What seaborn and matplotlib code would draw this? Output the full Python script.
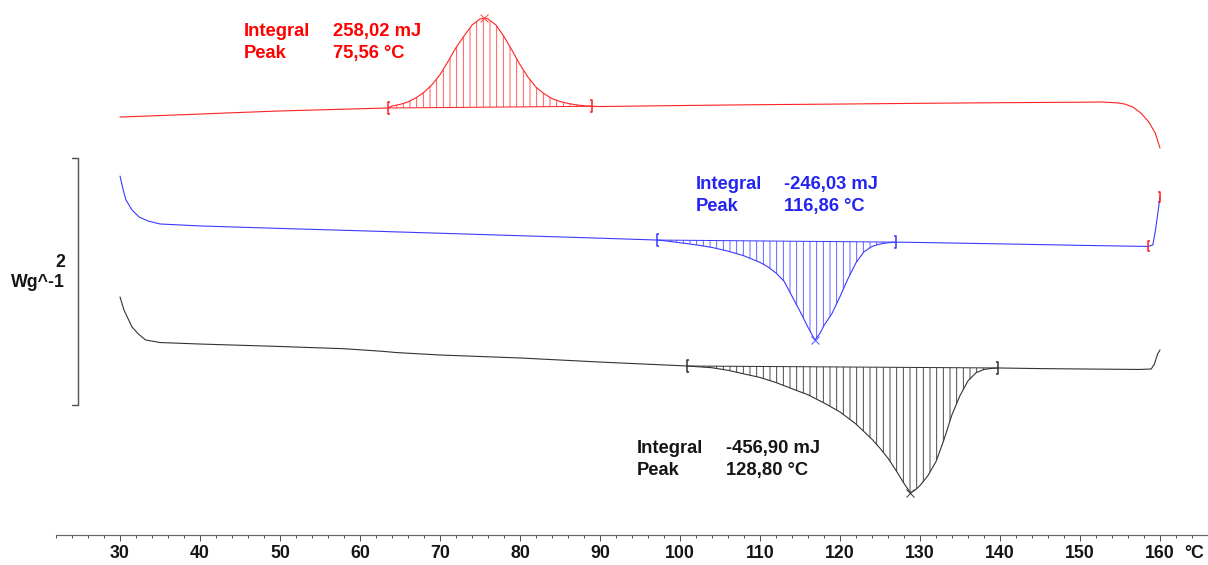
import numpy as np
import matplotlib
matplotlib.use("Agg")
import matplotlib.pyplot as plt
from matplotlib.path import Path
import seaborn as sns

# ---------------- data (temperature in °C, heat flow in W/g, curves offset) ----------------
red_T = [30, 35, 40, 45, 50, 55, 60, 63.5, 64, 65, 66, 67, 68, 69, 70, 71, 72, 73, 74, 75,
         75.56, 76, 77, 78, 79, 80, 81, 82, 83, 84, 85, 86, 87, 88, 89, 90, 100, 110, 120,
         130, 140, 150.5, 152.6, 154.6, 155.6, 156.6, 157.6, 158.6, 159.4, 160]
red_hf = [3.433, 3.445, 3.457, 3.470, 3.482, 3.491, 3.500, 3.506, 3.522, 3.535, 3.555, 3.589,
          3.633, 3.695, 3.776, 3.882, 3.995, 4.089, 4.178, 4.227, 4.235, 4.227, 4.178, 4.085,
          3.974, 3.857, 3.756, 3.675, 3.622, 3.582, 3.559, 3.543, 3.532, 3.524, 3.520, 3.518,
          3.526, 3.533, 3.538, 3.544, 3.549, 3.553, 3.555, 3.548, 3.538, 3.514, 3.466, 3.393,
          3.304, 3.182]

blue_T = [30, 30.4, 30.75, 31.5, 32.4, 33.5, 35, 40, 50, 60, 70, 80, 90, 97.1, 98, 100, 102,
          104, 106, 108, 110, 111, 112, 113, 114, 115, 116, 116.86, 117.5, 118, 119, 120, 121,
          122, 123, 124, 125, 126, 127, 130, 140, 150, 158.5, 159.1, 159.4, 159.7, 160]
blue_hf = [2.955, 2.842, 2.761, 2.680, 2.623, 2.591, 2.567, 2.551, 2.531, 2.512, 2.492, 2.472,
           2.452, 2.437, 2.432, 2.415, 2.398, 2.377, 2.347, 2.309, 2.256, 2.219, 2.170, 2.104,
           1.982, 1.860, 1.730, 1.628, 1.681, 1.745, 1.842, 1.979, 2.124, 2.253, 2.342, 2.385,
           2.405, 2.415, 2.420, 2.417, 2.406, 2.394, 2.385, 2.397, 2.502, 2.640, 2.785]

black_T = [30, 30.5, 31.5, 32.3, 33.2, 35, 40, 50, 58, 63, 64.5, 70, 80, 90, 100.9, 102, 104,
           106, 108, 110, 112, 114, 116, 118, 120, 122, 124, 125, 126, 127, 128, 128.8, 129.5,
           130, 131, 132, 133, 134, 135, 136, 137, 138, 139, 139.8, 145, 150, 157.5, 158.9,
           159.3, 159.7, 160]
black_hf = [1.976, 1.870, 1.733, 1.676, 1.628, 1.607, 1.595, 1.575, 1.557, 1.535, 1.526, 1.506,
            1.482, 1.449, 1.417, 1.412, 1.403, 1.382, 1.353, 1.324, 1.283, 1.233, 1.184, 1.118,
            1.045, 0.947, 0.824, 0.751, 0.670, 0.572, 0.466, 0.389, 0.418, 0.449, 0.530, 0.643,
            0.821, 1.023, 1.177, 1.297, 1.362, 1.389, 1.398, 1.401, 1.396, 1.393, 1.389, 1.393,
            1.433, 1.514, 1.547]

# integration limits, peak temperatures and result texts
red_limits = [63.5, 89.0]
blue_limits = [97.1, 127.0]
black_limits = [100.9, 139.8]
red_end_limits = [158.5, 160.0]          # red limit marks drawn on the blue curve end
peak_temps = [75.56, 116.86, 128.80]
integral_texts = ["258,02 mJ", "-246,03 mJ", "-456,90 mJ"]
peak_texts = ["75,56 °C", "116,86 °C", "128,80 °C"]
row_labels = ["Integral", "Peak"]

x_major = list(range(30, 161, 10))
x_minor = list(range(22, 167, 2))
x_unit = "°C"
scale_value = 2
scale_unit = "Wg^-1"

# ---------------- style ----------------
sns.set_theme(style="white")
plt.rcParams['font.family'] = ['Liberation Sans', 'DejaVu Sans']
plt.rcParams['font.weight'] = 'bold'
plt.rcParams['hatch.linewidth'] = 0.8

DPI = 80
fig = plt.figure(figsize=(1208 / DPI, 565 / DPI), dpi=DPI, facecolor='white')
ax = fig.add_axes([0, 0, 1, 1])
ax.set_facecolor('white')
ax.set_xlim(15, 166)
ax.set_ylim((541 - 565) / 123.5, 541 / 123.5)

RED, RED_H = '#ff2222', '#ff4a4a'
BLUE, BLUE_H = '#3a3aff', '#5555ff'
BLACK, BLACK_H = '#333333', '#3a3a3a'
TXT_RED, TXT_BLUE, TXT_BLACK = '#ff0000', '#2424f0', '#151515'

left_br = Path([(0.4, 1), (0, 1), (0, -1), (0.4, -1)],
               [Path.MOVETO, Path.LINETO, Path.LINETO, Path.LINETO])
right_br = Path([(-0.4, 1), (0, 1), (0, -1), (-0.4, -1)],
                [Path.MOVETO, Path.LINETO, Path.LINETO, Path.LINETO])


def draw_curve(T, hf, limits, peak, color, hcolor):
    sns.lineplot(x=T, y=hf, ax=ax, color=color, linewidth=1.0, estimator=None, sort=False)
    lo, hi = limits
    xd = np.linspace(lo, hi, 400)
    cur = np.interp(xd, T, hf)
    base = np.interp(xd, [lo, hi], [np.interp(lo, T, hf), np.interp(hi, T, hf)])
    ax.fill_between(xd, base, cur, facecolor='none', edgecolor=hcolor, hatch='||', linewidth=0)
    ax.plot([lo, hi], [np.interp(lo, T, hf), np.interp(hi, T, hf)], color=color, lw=0.9)
    ax.plot([lo], [np.interp(lo, T, hf)], marker=left_br, ms=11, mfc='none', mec=color,
            mew=1.4, ls='none')
    ax.plot([hi], [np.interp(hi, T, hf)], marker=right_br, ms=11, mfc='none', mec=color,
            mew=1.4, ls='none')
    ax.plot([peak], [np.interp(peak, T, hf)], marker='x', ms=6.5, mew=0.9, color=hcolor,
            ls='none')


draw_curve(red_T, red_hf, red_limits, peak_temps[0], RED, RED_H)
draw_curve(blue_T, blue_hf, blue_limits, peak_temps[1], BLUE, BLUE_H)
draw_curve(black_T, black_hf, black_limits, peak_temps[2], BLACK, BLACK_H)

# red limit marks at end of blue curve
ax.plot([red_end_limits[0]], [np.interp(red_end_limits[0], blue_T, blue_hf)], marker=left_br,
        ms=9, mfc='none', mec=RED, mew=1.4, ls='none')
ax.plot([red_end_limits[1]], [np.interp(red_end_limits[1], blue_T, blue_hf)], marker=right_br,
        ms=9, mfc='none', mec=RED, mew=1.4, ls='none')

# result texts
FS = 16.5
blocks = [
    (45.5, 56.6, 4.089, 3.913, TXT_RED),
    (102.0, 113.0, 2.848, 2.674, TXT_BLUE),
    (94.6, 105.75, 0.710, 0.534, TXT_BLACK),
]
for (xl, xv, y1, y2, c), it, pt in zip(blocks, integral_texts, peak_texts):
    ax.text(xl, y1, row_labels[0], color=c, fontsize=FS, fontweight='bold', va='baseline')
    ax.text(xv, y1, it, color=c, fontsize=FS, fontweight='bold', va='baseline')
    ax.text(xl, y2, row_labels[1], color=c, fontsize=FS, fontweight='bold', va='baseline')
    ax.text(xv, y2, pt, color=c, fontsize=FS, fontweight='bold', va='baseline')

# scale bar
sb_x, sb_top = 24.75, 3.101
sb_bot = sb_top - scale_value
ax.plot([24.0, sb_x, sb_x, 24.0], [sb_top, sb_top, sb_bot, sb_bot], color='#555555', lw=1.3)
ax.text(23.1, 2.221, str(scale_value), ha='right', va='baseline', fontsize=16,
        fontweight='bold', color=TXT_BLACK)
ax.text(23.1, 2.054, scale_unit, ha='right', va='baseline', fontsize=16,
        fontweight='bold', color=TXT_BLACK)

# x axis
for s in ['left', 'right', 'top']:
    ax.spines[s].set_visible(False)
axis_y = (541 - 535) / 123.5
ax.spines['bottom'].set_position(('data', axis_y))
ax.spines['bottom'].set_bounds(22, 166)
ax.spines['bottom'].set_color('#666666')
ax.spines['bottom'].set_linewidth(1.1)
ax.set_xticks(x_major)
ax.set_xticklabels([str(v) for v in x_major])
ax.set_xticks(x_minor, minor=True)
ax.set_yticks([])
TL, TP, TFS = 5.2, 3.5, 16
ax.tick_params(axis='x', which='both', bottom=True, direction='out', color='#555555',
               width=0.9)
ax.tick_params(axis='x', which='major', length=TL, pad=TP, labelsize=TFS,
               labelcolor=TXT_BLACK)
ax.tick_params(axis='x', which='minor', length=2.9)
for lab in ax.get_xticklabels():
    lab.set_fontweight('bold')
ax.annotate(x_unit, xy=(163.0, axis_y), xytext=(0, -(TL + TP)), textcoords='offset points',
            ha='left', va='top', fontsize=TFS, fontweight='bold', color=TXT_BLACK)
ax.grid(False)

fig.savefig('out.png', dpi=DPI, facecolor='white')
